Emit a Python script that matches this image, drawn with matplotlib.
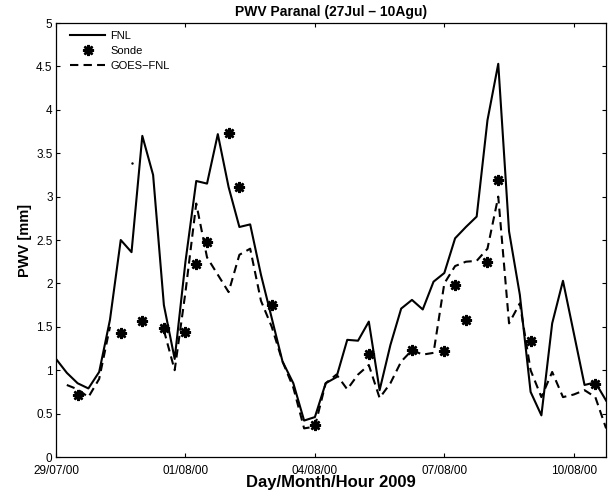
import numpy as np
import pandas as pd
import matplotlib
matplotlib.use("Agg")
import matplotlib.pyplot as plt
import matplotlib.dates as mdates

plt.rcParams['font.family'] = ['Liberation Sans', 'DejaVu Sans']

# 6-hourly series, 29/07 00h .. 10/08 18h
times = pd.date_range('2009-07-29 00:00', periods=52, freq='6h')

fnl = [1.13, 0.97, 0.85, 0.79, 0.98, 1.58, 2.50, 2.36, 3.70, 3.25,
       1.75, 1.13, 2.25, 3.18, 3.15, 3.72, 3.11, 2.65, 2.68, 2.10,
       1.60, 1.10, 0.85, 0.42, 0.46, 0.85, 0.92, 1.35, 1.34, 1.56,
       0.77, 1.29, 1.71, 1.81, 1.70, 2.02, 2.12, 2.52, 2.65, 2.77,
       3.88, 4.53, 2.60, 1.87, 0.75, 0.48, 1.54, 2.03, 1.43, 0.83,
       0.86, 0.65]

goes_fnl = [np.nan, 0.83, 0.78, 0.69, 0.90, 1.50, np.nan, np.nan, np.nan, np.nan,
            1.46, 1.00, 1.90, 2.92, 2.30, 2.10, 1.90, 2.33, 2.40, 1.80,
            1.50, 1.10, 0.80, 0.33, 0.35, 0.85, 0.95, 0.78, 0.95, 1.06,
            0.68, 0.85, 1.10, 1.23, 1.18, 1.20, 2.00, 2.20, 2.25, 2.26,
            2.40, 3.00, 1.54, 1.77, 1.00, 0.69, 0.98, 0.69, 0.72, 0.77,
            0.69, 0.33]

sonde_times = pd.to_datetime([
    '2009-07-29 12:00', '2009-07-30 12:00', '2009-07-31 00:00', '2009-07-31 12:00',
    '2009-08-01 00:00', '2009-08-01 06:00', '2009-08-01 12:00', '2009-08-02 00:00',
    '2009-08-02 06:00', '2009-08-03 00:00', '2009-08-04 00:00', '2009-08-05 06:00',
    '2009-08-06 06:00', '2009-08-07 00:00', '2009-08-07 06:00', '2009-08-07 12:00',
    '2009-08-08 00:00', '2009-08-08 06:00', '2009-08-09 00:00', '2009-08-10 12:00'])
sonde = [0.71, 1.43, 1.57, 1.49, 1.44, 2.22, 2.48, 3.73, 3.11, 1.75,
         0.37, 1.19, 1.23, 1.22, 1.98, 1.58, 2.25, 3.19, 1.34, 0.84]

stray_time = pd.to_datetime(['2009-07-30 18:00'])
stray_val = [3.39]

fig = plt.figure(figsize=(6.11, 4.96), dpi=100)
ax = fig.add_axes([0.0917, 0.0786, 0.9003, 0.875])

ax.plot(times, fnl, 'k-', lw=1.5, label='FNL')
ax.plot(sonde_times, sonde, linestyle='none', marker=(8, 2, 0), ms=8,
        mew=1.8, color='k', label='Sonde')
ax.plot(times, goes_fnl, 'k--', lw=1.5, dashes=(4, 2.5), label='GOES\u2212FNL')
ax.plot(stray_time, stray_val, 'k.', ms=1.5)

ax.set_xlim(times[0], times[-1])
ax.set_ylim(0, 5)
ax.set_yticks(np.arange(0, 5.01, 0.5))
ax.set_yticklabels(['0', '0.5', '1', '1.5', '2', '2.5', '3', '3.5', '4', '4.5', '5'])
ax.set_xticks(pd.to_datetime(['2009-07-29', '2009-08-01', '2009-08-04',
                              '2009-08-07', '2009-08-10']))
ax.xaxis.set_major_formatter(mdates.DateFormatter('%d/%m/%H'))

ax.tick_params(direction='in', top=True, right=True, length=3.2, width=0.8,
               labelsize=8.5)
ax.tick_params(axis='x', pad=5.5)
ax.tick_params(axis='y', pad=2.5)
for s in ax.spines.values():
    s.set_linewidth(0.9)

ax.set_title('PWV Paranal (27Jul \u2013 10Agu)', fontsize=10, fontweight='bold', pad=5)
ax.set_xlabel('Day/Month/Hour 2009', fontsize=12, fontweight='bold', labelpad=-1)
ax.set_ylabel('PWV [mm]', fontsize=10.5, fontweight='bold', labelpad=3)

ax.legend(loc='upper left', bbox_to_anchor=(0.0175, 0.991), frameon=False,
          fontsize=8, handlelength=3.15, borderaxespad=0, labelspacing=0.45,
          handletextpad=0.45)

fig.savefig('out.png', dpi=100)
